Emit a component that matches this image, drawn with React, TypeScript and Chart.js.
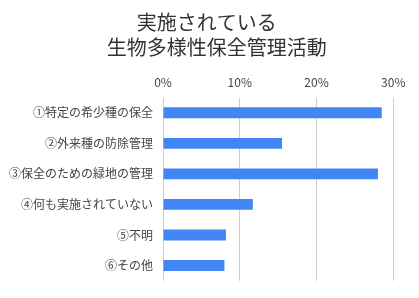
import React, { useEffect, useRef } from "react";
import { Chart, registerables } from "chart.js";

Chart.register(...registerables);

const titleLines = ["　　実施されている　", "　　生物多様性保全管理活動"];
const categories = [
  "①特定の希少種の保全",
  "②外来種の防除管理",
  "③保全のための緑地の管理",
  "④何も実施されていない",
  "⑤不明",
  "⑥その他",
];
const shares = [0.285, 0.155, 0.28, 0.117, 0.082, 0.08];
const axisMax = 0.3;
const axisStep = 0.1;

export default function App() {
  const ref = useRef<HTMLCanvasElement | null>(null);
  useEffect(() => {
    document.body.style.margin = "0";
    const ctx = ref.current!;
    const chart = new Chart(ctx, {
      type: "bar",
      data: {
        labels: categories,
        datasets: [
          {
            data: shares,
            backgroundColor: "#4285f4",
            borderWidth: 0,
            barPercentage: 0.355,
            categoryPercentage: 1,
          },
        ],
      },
      options: {
        indexAxis: "y",
        responsive: false,
        animation: false,
        devicePixelRatio: 1,
        layout: { padding: { left: 0, right: 25.7, top: 0, bottom: 13 } },
        plugins: {
          legend: { display: false },
          tooltip: { enabled: false },
          title: {
            display: true,
            text: titleLines,
            color: "#333",
            font: { family: "'Noto Sans CJK JP'", size: 20, weight: "normal", lineHeight: 1.25 },
            padding: { top: 9.5, bottom: 7.6 },
          },
        },
        scales: {
          x: {
            position: "top",
            min: 0,
            max: axisMax,
            border: { display: false },
            grid: { color: "#cccccc", drawTicks: false, lineWidth: 1 },
            ticks: {
              stepSize: axisStep,
              padding: 8,
              color: "#444",
              font: { family: "'Noto Sans CJK JP'", size: 12 },
              callback: (v: any) => Math.round(Number(v) * 100) + "%",
            },
          },
          y: {
            border: { display: false },
            grid: { display: false, drawTicks: false },
            ticks: {
              padding: 10,
              color: "#444",
              font: { family: "'Noto Sans CJK JP'", size: 12 },
            },
            afterFit: (scale: any) => {
              scale.width = 163;
            },
          },
        },
      },
    });
    return () => chart.destroy();
  }, []);
  return (
    <div style={{ position: "absolute", left: 0, top: 0, width: 419, height: 298 }}>
      <canvas ref={ref} width={419} height={298} />
    </div>
  );
}
